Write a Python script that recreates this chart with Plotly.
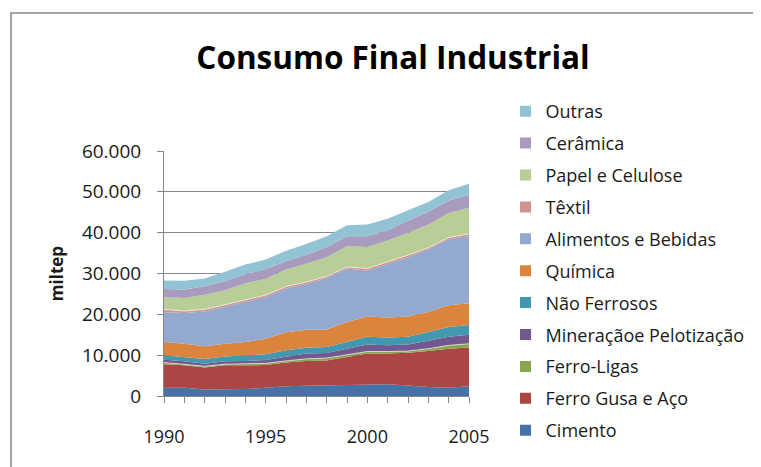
import plotly.graph_objects as go

years = list(range(1990, 2006))

cimento = [2000, 2000, 1600, 1700, 1700, 2000, 2400, 2500, 2600, 2800, 2900, 2900, 2600, 2200, 2050, 2400]
ferro_gusa = [5800, 5500, 5350, 5800, 5800, 5600, 5800, 6100, 6100, 6700, 7500, 7500, 8000, 8800, 9550, 9500]
ferro_ligas = [400, 300, 350, 300, 400, 400, 400, 500, 600, 600, 500, 500, 400, 600, 800, 900]
mineracao = [700, 700, 600, 700, 700, 800, 1000, 1300, 1200, 1500, 1700, 1500, 1600, 1900, 2100, 2200]
nao_ferrosos = [1100, 1100, 1150, 1200, 1400, 1400, 1600, 1400, 1500, 1600, 1900, 1900, 1900, 2200, 2400, 2400]
quimica = [3200, 3200, 3150, 3100, 3200, 3800, 4400, 4400, 4300, 4900, 5000, 4900, 5000, 4900, 5300, 5300]
alimentos = [7300, 7500, 8500, 9000, 9800, 10200, 10700, 11200, 12600, 13100, 11200, 13100, 14500, 15300, 16200, 16400]
textil = [700, 500, 500, 600, 500, 500, 500, 500, 400, 400, 500, 500, 500, 400, 400, 600]
papel = [3000, 3200, 3600, 3500, 4100, 4000, 4200, 4500, 4700, 5100, 5300, 5300, 5400, 5700, 6000, 6400]
ceramica = [2000, 2100, 2100, 2200, 2200, 2400, 2000, 2200, 2500, 2400, 2600, 2500, 3000, 3100, 3100, 3100]
outras = [2100, 2100, 1900, 2300, 2400, 2300, 2600, 2600, 2600, 2700, 2900, 2800, 2600, 2400, 2500, 2800]

series = [
    ('Cimento', cimento, '#4572A7'),
    ('Ferro Gusa e Aço', ferro_gusa, '#AA4643'),
    ('Ferro-Ligas', ferro_ligas, '#89A54E'),
    ('Mineraçãoe Pelotização', mineracao, '#71588F'),
    ('Não Ferrosos', nao_ferrosos, '#4198AF'),
    ('Química', quimica, '#DB843D'),
    ('Alimentos e Bebidas', alimentos, '#93A9CF'),
    ('Têxtil', textil, '#D19392'),
    ('Papel e Celulose', papel, '#B9CD96'),
    ('Cerâmica', ceramica, '#A99BBD'),
    ('Outras', outras, '#91C3D5'),
]

x_ticks = years
x_labels = [str(y) if y % 5 == 0 else '' for y in years]

fig = go.Figure()

for name, vals, color in series:
    edge = dict(width=0.6, color='white') if name in ('Ferro-Ligas', 'Têxtil') else dict(width=0, color=color)
    fig.add_trace(go.Scatter(
        x=years, y=vals, name=name, mode='lines', stackgroup='one',
        line=edge, fillcolor=color, showlegend=False, hoverinfo='x+y+name',
    ))

# legend entries as squares, top to bottom like Excel
for name, vals, color in reversed(series):
    fig.add_trace(go.Scatter(
        x=[None], y=[None], name=name, mode='markers', legendgroup=name,
        marker=dict(symbol='square', size=11, color=color),
    ))

# page body has an 8px margin, so work in shifted pixel coords
OFF = 8
W, H = 761 - OFF, 467 - OFF
L, R, T, B = 164 - OFF, 473 - OFF, 151 - OFF, 396 - OFF
pw, ph = R - L, B - T

fig.update_layout(
    width=W, height=H,
    margin=dict(l=L, r=W - R, t=T, b=H - B, pad=0),
    paper_bgcolor='white', plot_bgcolor='white',
    separators=',.',
    font=dict(family='Open Sans', size=18, color='#1a1a1a'),
    title=dict(
        text='<b>Consumo Final Industrial</b>',
        x=(393 - OFF) / W, xanchor='center', y=1 - (58 - OFF) / H, yanchor='middle',
        font=dict(family='Open Sans', size=31.5, color='black'),
    ),
    xaxis=dict(
        range=[1990, 2005], tickvals=x_ticks, ticktext=x_labels,
        showgrid=False, showline=True, linecolor='#868686', linewidth=1,
        ticks='outside', ticklen=6, tickcolor='#868686',
        ticklabelstandoff=18, tickfont=dict(size=18), zeroline=False,
    ),
    yaxis=dict(
        range=[0, 60000], dtick=10000, tickformat=',d',
        showgrid=True, gridcolor='#868686', gridwidth=1,
        showline=True, linecolor='#868686', linewidth=1,
        ticks='outside', ticklen=6, tickcolor='#868686',
        ticklabelstandoff=12, tickfont=dict(size=19), zeroline=False,
        title=dict(text='<b>miltep</b>', standoff=13, font=dict(size=17)),
    ),
    legend=dict(
        x=(510 - OFF - L) / pw, xanchor='left', y=(B - (93 - OFF)) / ph, yanchor='top',
        traceorder='grouped', tracegroupgap=5.5, maxheight=420,
        font=dict(size=18), bgcolor='rgba(0,0,0,0)',
    ),
)

# chart area border
fig.add_shape(type='rect', xref='paper', yref='paper',
              x0=(9 - OFF - L) / pw, x1=(W + 20 - L) / pw,
              y0=(B - H - 20) / ph, y1=(B - (13 - OFF)) / ph,
              line=dict(color='#868686', width=1.5), layer='below')

fig.write_html('out.html')
